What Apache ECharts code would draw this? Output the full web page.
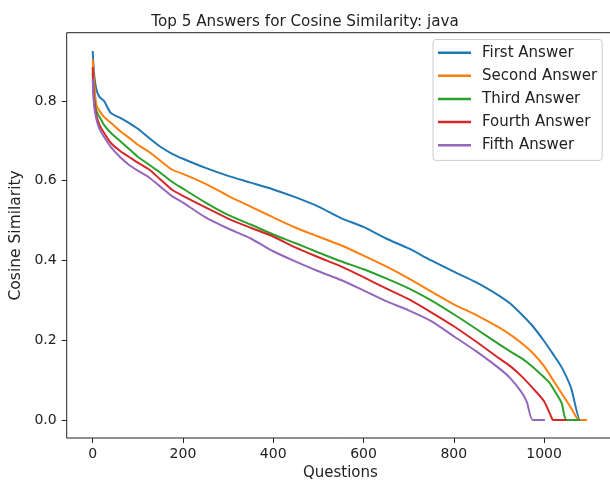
<!DOCTYPE html>
<html>
<head>
<meta charset="utf-8">
<title>Top 5 Answers for Cosine Similarity: java</title>
<script src="https://cdn.jsdelivr.net/npm/echarts@6/dist/echarts.min.js"></script>
<style>
  html, body { margin: 0; padding: 0; background: #fff; }
  #chart { width: 610px; height: 487px; }
</style>
</head>
<body>
<div id="chart"></div>
<script>
// Sorted cosine similarity per question, one curve per answer rank: [question, similarity]
const firstAnswer = [
  [0, 0.925], [3, 0.87], [8, 0.83], [15, 0.81], [25, 0.80], [40, 0.77], [60, 0.758],
  [80, 0.745], [100, 0.73], [125, 0.707], [150, 0.685], [175, 0.668], [200, 0.655],
  [250, 0.632], [300, 0.612], [350, 0.595], [400, 0.578], [450, 0.558], [500, 0.535],
  [550, 0.506], [600, 0.484], [650, 0.455], [700, 0.43], [750, 0.40], [800, 0.372],
  [850, 0.345], [900, 0.312], [925, 0.292], [950, 0.265], [975, 0.235], [1000, 0.198],
  [1020, 0.165], [1040, 0.13], [1060, 0.08], [1080, 0.0], [1085, 0.0]
];
const secondAnswer = [
  [0, 0.905], [3, 0.85], [8, 0.79], [15, 0.775], [25, 0.76], [40, 0.745], [60, 0.725],
  [80, 0.708], [100, 0.69], [125, 0.672], [150, 0.65], [175, 0.628], [200, 0.617],
  [250, 0.592], [300, 0.562], [350, 0.535], [400, 0.508], [450, 0.482], [500, 0.46],
  [550, 0.438], [600, 0.412], [650, 0.385], [700, 0.355], [750, 0.322], [800, 0.29],
  [850, 0.263], [900, 0.232], [925, 0.214], [950, 0.193], [975, 0.168], [1000, 0.135],
  [1020, 0.10], [1040, 0.065], [1060, 0.03], [1078, 0.0], [1095, 0.0]
];
const thirdAnswer = [
  [0, 0.87], [3, 0.81], [8, 0.775], [15, 0.76], [25, 0.74], [40, 0.72], [60, 0.70],
  [80, 0.68], [100, 0.66], [125, 0.64], [150, 0.62], [175, 0.598], [200, 0.58],
  [250, 0.545], [300, 0.514], [350, 0.49], [400, 0.465], [450, 0.443], [500, 0.42],
  [550, 0.398], [600, 0.378], [650, 0.355], [700, 0.33], [750, 0.30], [800, 0.265],
  [850, 0.228], [900, 0.19], [925, 0.172], [950, 0.155], [975, 0.133], [1000, 0.107],
  [1013, 0.092], [1025, 0.07], [1039, 0.042], [1050, 0.0], [1080, 0.0]
];
const fourthAnswer = [
  [0, 0.885], [3, 0.80], [8, 0.765], [15, 0.74], [25, 0.72], [40, 0.695], [60, 0.675],
  [80, 0.66], [100, 0.645], [125, 0.628], [150, 0.603], [175, 0.578], [200, 0.562],
  [250, 0.533], [300, 0.505], [350, 0.482], [400, 0.46], [450, 0.432], [500, 0.408],
  [550, 0.385], [600, 0.358], [650, 0.33], [700, 0.303], [750, 0.27], [800, 0.235],
  [850, 0.196], [900, 0.155], [925, 0.135], [950, 0.11], [975, 0.08], [1000, 0.047],
  [1017, 0.005], [1020, 0.0], [1050, 0.0]
];
const fifthAnswer = [
  [0, 0.855], [3, 0.79], [8, 0.755], [15, 0.73], [25, 0.71], [40, 0.685], [60, 0.66],
  [80, 0.64], [100, 0.625], [125, 0.608], [150, 0.585], [175, 0.562], [200, 0.545],
  [250, 0.508], [300, 0.48], [350, 0.455], [400, 0.423], [450, 0.397], [500, 0.373],
  [550, 0.351], [600, 0.325], [650, 0.298], [700, 0.275], [750, 0.248], [800, 0.21],
  [850, 0.172], [900, 0.13], [925, 0.105], [950, 0.07], [962, 0.045], [975, 0.0],
  [1002, 0.0]
];

const seriesNames = ['First Answer', 'Second Answer', 'Third Answer', 'Fourth Answer', 'Fifth Answer'];
const seriesData = [firstAnswer, secondAnswer, thirdAnswer, fourthAnswer, fifthAnswer];
const seriesColors = ['#1f77b4', '#ff7f0e', '#2ca02c', '#d62728', '#9467bd'];

const xTicks = [0, 200, 400, 600, 800, 1000];
const yTicks = [0, 0.2, 0.4, 0.6, 0.8];

const FONT = '"DejaVu Sans", sans-serif';
const INK = '#222';

const chart = echarts.init(document.getElementById('chart'), null, { renderer: 'canvas' });

chart.setOption({
  animation: false,
  backgroundColor: '#fff',
  textStyle: { fontFamily: FONT, color: INK },
  title: {
    text: 'Top 5 Answers for Cosine Similarity: java',
    left: 'center',
    top: 7,
    textStyle: { fontFamily: FONT, fontSize: 15.2, fontWeight: 'normal', color: INK, lineHeight: 20 }
  },
  legend: {
    orient: 'vertical',
    left: 433,
    top: 39.5,
    padding: [5, 5, 7, 5],
    itemGap: 6.6,
    itemWidth: 33,
    itemHeight: 2.5,
    icon: 'rect',
    backgroundColor: 'rgba(255,255,255,0.8)',
    borderColor: '#cccccc',
    borderWidth: 1,
    borderRadius: 3,
    textStyle: { fontFamily: FONT, fontSize: 15, color: INK, lineHeight: 16.5, padding: [0, 0, 0, 6] },
    data: seriesNames
  },
  grid: {
    left: 66.7,
    top: 32.7,
    width: 547.3,
    height: 405.3,
    containLabel: false,
    outerBoundsMode: 'none',
    show: true,
    borderColor: '#222',
    borderWidth: 1,
    backgroundColor: '#fff'
  },
  xAxis: {
    type: 'value',
    min: -57.6,
    max: 1155,
    name: 'Questions',
    nameLocation: 'middle',
    nameGap: 27,
    nameTextStyle: { fontFamily: FONT, fontSize: 15, color: INK },
    axisLine: { show: false, onZero: false },
    axisTick: { show: true, length: 5, lineStyle: { color: '#222', width: 1 }, customValues: xTicks },
    axisLabel: {
      fontFamily: FONT, fontSize: 14, color: INK, margin: 9, customValues: xTicks,
      formatter: v => String(v)
    },
    splitLine: { show: false }
  },
  yAxis: {
    type: 'value',
    min: -0.0452,
    max: 0.971,
    name: 'Cosine Similarity',
    nameLocation: 'middle',
    nameGap: 40,
    nameTextStyle: { fontFamily: FONT, fontSize: 15.5, color: INK },
    axisLine: { show: false, onZero: false },
    axisTick: { show: true, length: 5, lineStyle: { color: '#222', width: 1 }, customValues: yTicks },
    axisLabel: {
      fontFamily: FONT, fontSize: 14, color: INK, margin: 10, customValues: yTicks,
      formatter: v => v.toFixed(1)
    },
    splitLine: { show: false }
  },
  series: seriesNames.map((name, i) => ({
    name,
    type: 'line',
    data: seriesData[i],
    showSymbol: false,
    symbol: 'none',
    smooth: 0.25,
    color: seriesColors[i],
    lineStyle: { width: 2, color: seriesColors[i] },
    emphasis: { disabled: true }
  }))
});
</script>
</body>
</html>
